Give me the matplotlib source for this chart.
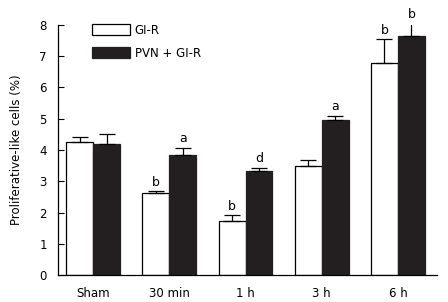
import matplotlib
matplotlib.use("Agg")
import matplotlib.pyplot as plt
import numpy as np

categories = ["Sham", "30 min", "1 h", "3 h", "6 h"]
gir_mean = [4.25, 2.62, 1.73, 3.48, 6.78]
gir_err = [0.18, 0.06, 0.19, 0.19, 0.75]
pvn_mean = [4.20, 3.85, 3.32, 4.95, 7.65]
pvn_err = [0.30, 0.22, 0.12, 0.15, 0.40]
gir_labels = ["", "b", "b", "", "b"]
pvn_labels = ["", "a", "d", "a", "b"]
yticks = [0, 1, 2, 3, 4, 5, 6, 7, 8]

plt.rcParams['font.family'] = ['DejaVu Sans']
fig = plt.figure(figsize=(4.48, 3.02), dpi=100)
ax = fig.add_axes([0.129, 0.088, 0.846, 0.830])

x = np.arange(len(categories))
w = 0.354
dark = "#231f20"
ekw = dict(ecolor="black", elinewidth=0.9, capsize=5.5, capthick=0.9)
zeros = [0] * len(categories)
ax.bar(x - w/2, gir_mean, w, color="white", edgecolor="black", linewidth=0.9,
       yerr=[zeros, gir_err], error_kw=ekw, label="GI-R")
ax.bar(x + w/2, pvn_mean, w, color=dark, edgecolor=dark, linewidth=0.9,
       yerr=[zeros, pvn_err], error_kw=ekw, label="PVN + GI-R")

for i in range(len(categories)):
    if gir_labels[i]:
        ax.text(x[i] - w/2, gir_mean[i] + gir_err[i] + 0.08, gir_labels[i],
                ha="center", va="bottom", fontsize=9)
    if pvn_labels[i]:
        ax.text(x[i] + w/2, pvn_mean[i] + pvn_err[i] + 0.08, pvn_labels[i],
                ha="center", va="bottom", fontsize=9)

ax.set_xlim(-0.463, 4.51)
ax.set_ylim(0, 8)
ax.set_yticks(yticks)
ax.set_xticks(x)
ax.set_xticklabels(categories, fontsize=8.5)
ax.tick_params(axis="x", length=0, pad=8)
ax.tick_params(axis="y", direction="in", length=4, labelsize=8.5, width=0.8, pad=8)
ax.set_ylabel("Proliferative-like cells (%)", fontsize=8.5, labelpad=12)
for s in ["top", "right"]:
    ax.spines[s].set_visible(False)
for s in ["left", "bottom"]:
    ax.spines[s].set_linewidth(0.9)

leg = ax.legend(loc="upper left", bbox_to_anchor=(0.091, 1.005), frameon=False,
                fontsize=8.5, handlelength=3.2, handleheight=1.0, handletextpad=0.4,
                labelspacing=0.85, borderpad=0, borderaxespad=0)
fig.savefig("out.png", dpi=100)
